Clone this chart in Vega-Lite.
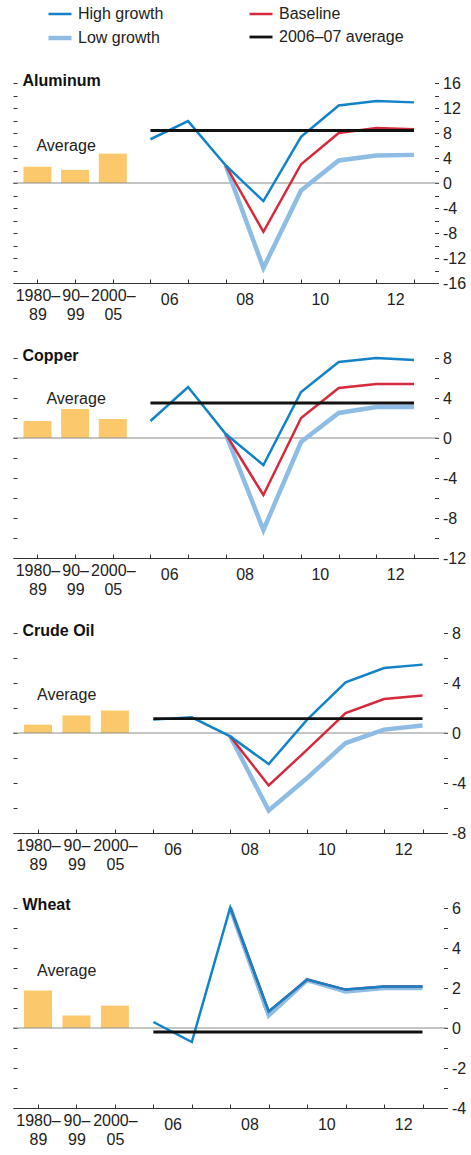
{
  "$schema": "https://vega.github.io/schema/vega-lite/v6.json",
  "padding": {"left": 12, "top": 1, "right": 0, "bottom": 0},
  "bounds": "flush",
  "spacing": 75,
  "datasets": {
    "bars": [
      {"c": "Aluminum", "t": "1980–89", "v": 2.6},
      {"c": "Aluminum", "t": "1990–99", "v": 2.1},
      {"c": "Aluminum", "t": "2000–05", "v": 4.7},
      {"c": "Copper", "t": "1980–89", "v": 1.7},
      {"c": "Copper", "t": "1990–99", "v": 2.9},
      {"c": "Copper", "t": "2000–05", "v": 1.9},
      {"c": "Crude Oil", "t": "1980–89", "v": 0.67},
      {"c": "Crude Oil", "t": "1990–99", "v": 1.4},
      {"c": "Crude Oil", "t": "2000–05", "v": 1.8},
      {"c": "Wheat", "t": "1980–89", "v": 1.88},
      {"c": "Wheat", "t": "1990–99", "v": 0.62},
      {"c": "Wheat", "t": "2000–05", "v": 1.12}
    ],
    "lines": [
      {"c": "Aluminum", "s": "Low growth", "t": "2008", "v": 2.8},
      {"c": "Aluminum", "s": "Low growth", "t": "2009", "v": -13.6},
      {"c": "Aluminum", "s": "Low growth", "t": "2010", "v": -1.2},
      {"c": "Aluminum", "s": "Low growth", "t": "2011", "v": 3.6},
      {"c": "Aluminum", "s": "Low growth", "t": "2012", "v": 4.4},
      {"c": "Aluminum", "s": "Low growth", "t": "2013", "v": 4.5},
      {"c": "Copper", "s": "Low growth", "t": "2008", "v": 0.4},
      {"c": "Copper", "s": "Low growth", "t": "2009", "v": -9.2},
      {"c": "Copper", "s": "Low growth", "t": "2010", "v": -0.4},
      {"c": "Copper", "s": "Low growth", "t": "2011", "v": 2.5},
      {"c": "Copper", "s": "Low growth", "t": "2012", "v": 3.1},
      {"c": "Copper", "s": "Low growth", "t": "2013", "v": 3.1},
      {"c": "Crude Oil", "s": "Low growth", "t": "2008", "v": -0.27},
      {"c": "Crude Oil", "s": "Low growth", "t": "2009", "v": -6.2},
      {"c": "Crude Oil", "s": "Low growth", "t": "2010", "v": -3.6},
      {"c": "Crude Oil", "s": "Low growth", "t": "2011", "v": -0.8},
      {"c": "Crude Oil", "s": "Low growth", "t": "2012", "v": 0.27},
      {"c": "Crude Oil", "s": "Low growth", "t": "2013", "v": 0.6},
      {"c": "Wheat", "s": "Low growth", "t": "2008", "v": 6.0},
      {"c": "Wheat", "s": "Low growth", "t": "2009", "v": 0.63},
      {"c": "Wheat", "s": "Low growth", "t": "2010", "v": 2.4},
      {"c": "Wheat", "s": "Low growth", "t": "2011", "v": 1.83},
      {"c": "Wheat", "s": "Low growth", "t": "2012", "v": 2.0},
      {"c": "Wheat", "s": "Low growth", "t": "2013", "v": 2.0},
      {"c": "Aluminum", "s": "Baseline", "t": "2008", "v": 2.8},
      {"c": "Aluminum", "s": "Baseline", "t": "2009", "v": -7.8},
      {"c": "Aluminum", "s": "Baseline", "t": "2010", "v": 3.0},
      {"c": "Aluminum", "s": "Baseline", "t": "2011", "v": 8.0},
      {"c": "Aluminum", "s": "Baseline", "t": "2012", "v": 8.8},
      {"c": "Aluminum", "s": "Baseline", "t": "2013", "v": 8.6},
      {"c": "Copper", "s": "Baseline", "t": "2008", "v": 0.4},
      {"c": "Copper", "s": "Baseline", "t": "2009", "v": -5.7},
      {"c": "Copper", "s": "Baseline", "t": "2010", "v": 2.0},
      {"c": "Copper", "s": "Baseline", "t": "2011", "v": 5.0},
      {"c": "Copper", "s": "Baseline", "t": "2012", "v": 5.4},
      {"c": "Copper", "s": "Baseline", "t": "2013", "v": 5.4},
      {"c": "Crude Oil", "s": "Baseline", "t": "2008", "v": -0.27},
      {"c": "Crude Oil", "s": "Baseline", "t": "2009", "v": -4.2},
      {"c": "Crude Oil", "s": "Baseline", "t": "2010", "v": -1.33},
      {"c": "Crude Oil", "s": "Baseline", "t": "2011", "v": 1.6},
      {"c": "Crude Oil", "s": "Baseline", "t": "2012", "v": 2.72},
      {"c": "Crude Oil", "s": "Baseline", "t": "2013", "v": 3.0},
      {"c": "Wheat", "s": "Baseline", "t": "2008", "v": 6.03},
      {"c": "Wheat", "s": "Baseline", "t": "2009", "v": 0.83},
      {"c": "Wheat", "s": "Baseline", "t": "2010", "v": 2.42},
      {"c": "Wheat", "s": "Baseline", "t": "2011", "v": 1.92},
      {"c": "Wheat", "s": "Baseline", "t": "2012", "v": 2.08},
      {"c": "Wheat", "s": "Baseline", "t": "2013", "v": 2.08},
      {"c": "Aluminum", "s": "High growth", "t": "2006", "v": 7.0},
      {"c": "Aluminum", "s": "High growth", "t": "2007", "v": 9.9},
      {"c": "Aluminum", "s": "High growth", "t": "2008", "v": 2.8},
      {"c": "Aluminum", "s": "High growth", "t": "2009", "v": -2.9},
      {"c": "Aluminum", "s": "High growth", "t": "2010", "v": 7.4},
      {"c": "Aluminum", "s": "High growth", "t": "2011", "v": 12.4},
      {"c": "Aluminum", "s": "High growth", "t": "2012", "v": 13.1},
      {"c": "Aluminum", "s": "High growth", "t": "2013", "v": 12.9},
      {"c": "Copper", "s": "High growth", "t": "2006", "v": 1.7},
      {"c": "Copper", "s": "High growth", "t": "2007", "v": 5.1},
      {"c": "Copper", "s": "High growth", "t": "2008", "v": 0.4},
      {"c": "Copper", "s": "High growth", "t": "2009", "v": -2.7},
      {"c": "Copper", "s": "High growth", "t": "2010", "v": 4.6},
      {"c": "Copper", "s": "High growth", "t": "2011", "v": 7.6},
      {"c": "Copper", "s": "High growth", "t": "2012", "v": 8.0},
      {"c": "Copper", "s": "High growth", "t": "2013", "v": 7.8},
      {"c": "Crude Oil", "s": "High growth", "t": "2006", "v": 1.07},
      {"c": "Crude Oil", "s": "High growth", "t": "2007", "v": 1.25},
      {"c": "Crude Oil", "s": "High growth", "t": "2008", "v": -0.27},
      {"c": "Crude Oil", "s": "High growth", "t": "2009", "v": -2.48},
      {"c": "Crude Oil", "s": "High growth", "t": "2010", "v": 1.07},
      {"c": "Crude Oil", "s": "High growth", "t": "2011", "v": 4.05},
      {"c": "Crude Oil", "s": "High growth", "t": "2012", "v": 5.2},
      {"c": "Crude Oil", "s": "High growth", "t": "2013", "v": 5.47},
      {"c": "Wheat", "s": "High growth", "t": "2006", "v": 0.3},
      {"c": "Wheat", "s": "High growth", "t": "2007", "v": -0.7},
      {"c": "Wheat", "s": "High growth", "t": "2008", "v": 6.03},
      {"c": "Wheat", "s": "High growth", "t": "2009", "v": 0.83},
      {"c": "Wheat", "s": "High growth", "t": "2010", "v": 2.42},
      {"c": "Wheat", "s": "High growth", "t": "2011", "v": 1.92},
      {"c": "Wheat", "s": "High growth", "t": "2012", "v": 2.08},
      {"c": "Wheat", "s": "High growth", "t": "2013", "v": 2.08},
      {"c": "Aluminum", "s": "2006–07 average", "t": "2006", "v": 8.4},
      {"c": "Aluminum", "s": "2006–07 average", "t": "2013", "v": 8.4},
      {"c": "Copper", "s": "2006–07 average", "t": "2006", "v": 3.5},
      {"c": "Copper", "s": "2006–07 average", "t": "2013", "v": 3.5},
      {"c": "Crude Oil", "s": "2006–07 average", "t": "2006", "v": 1.15},
      {"c": "Crude Oil", "s": "2006–07 average", "t": "2013", "v": 1.15},
      {"c": "Wheat", "s": "2006–07 average", "t": "2006", "v": -0.2},
      {"c": "Wheat", "s": "2006–07 average", "t": "2013", "v": -0.2}
    ]
  },
  "vconcat": [
    {
      "width": 425.5, "height": 200,
      "title": {"text": "Aluminum"},
      "layer": [
        {"data": {"name": "bars"}, "transform": [{"filter": "datum.c == 'Aluminum'"}],
         "mark": {"type": "bar", "width": 28, "color": "#fbc96b"},
         "encoding": {
           "x": {"field": "t", "type": "ordinal", "scale": {"type": "point", "domain": ["1980–89","1990–99","2000–05","2006","2007","2008","2009","2010","2011","2012","2013"], "padding": 0.65},
                 "axis": {"orient": "bottom", "title": null, "tickSize": -4, "labelExpr": "datum.value == '1980–89' ? ['1980–','89'] : datum.value == '1990–99' ? ['90–','99'] : datum.value == '2000–05' ? ['2000–','05'] : ''"}},
           "y": {"field": "v", "type": "quantitative", "scale": {"domain": [-16, 16], "nice": false, "zero": false},
                 "axis": {"orient": "left", "title": null, "labels": false, "domain": false, "tickSize": -4, "values": [-16,-14,-12,-10,-8,-6,-4,-2,0,2,4,6,8,10,12,14,16]}}
         }},
        {"data": {"values": [{}]}, "mark": {"type": "rule", "color": "#8a8a8a", "strokeWidth": 1}, "encoding": {"y": {"datum": 0, "type": "quantitative", "axis": null}}},
        {"data": {"name": "lines"}, "transform": [{"filter": "datum.c == 'Aluminum'"}],
         "mark": {"type": "line", "strokeJoin": "miter"},
         "encoding": {
           "x": {"field": "t", "type": "ordinal", "scale": {"type": "point", "domain": ["1980–89","1990–99","2000–05","2006","2007","2008","2009","2010","2011","2012","2013"], "padding": 0.65},
                 "axis": {"orient": "bottom", "title": null, "domain": false, "ticks": false, "labelOffset": 18.8, "labelExpr": "indexof(['2006','2008','2010','2012'], datum.value) >= 0 ? substring(datum.value, 2) : ''"}},
           "y": {"field": "v", "type": "quantitative", "scale": {"domain": [-16, 16], "nice": false, "zero": false},
                 "axis": {"orient": "right", "title": null, "domain": false, "tickSize": -4, "values": [-16,-14,-12,-10,-8,-6,-4,-2,0,2,4,6,8,10,12,14,16], "labelExpr": "datum.value % 4 == 0 ? '' + datum.value : ''"}},
           "color": {"field": "s", "type": "nominal", "scale": {"domain": ["High growth","Low growth","Baseline","2006–07 average"], "range": ["#1283c9","#8dbde5","#d62a3c","#111111"]}, "legend": {"title": null}},
           "strokeWidth": {"field": "s", "type": "nominal", "scale": {"type": "ordinal", "domain": ["High growth","Low growth","Baseline","2006–07 average"], "range": [2.5, 4.5, 2.5, 2.8]}, "legend": {"title": null}}
         }},
        {"data": {"values": [{}]}, "mark": {"type": "text", "text": "Average", "align": "left", "baseline": "middle", "fontSize": 16, "color": "#222", "dx": -1},
         "encoding": {"x": {"datum": "1980–89", "type": "ordinal", "axis": null}, "y": {"datum": 6.0, "type": "quantitative", "axis": null}}}
      ],
      "resolve": {"axis": {"x": "independent", "y": "independent"}}
    },
    {
      "width": 425.5, "height": 200,
      "title": {"text": "Copper"},
      "layer": [
        {"data": {"name": "bars"}, "transform": [{"filter": "datum.c == 'Copper'"}],
         "mark": {"type": "bar", "width": 28, "color": "#fbc96b"},
         "encoding": {
           "x": {"field": "t", "type": "ordinal", "scale": {"type": "point", "domain": ["1980–89","1990–99","2000–05","2006","2007","2008","2009","2010","2011","2012","2013"], "padding": 0.65},
                 "axis": {"orient": "bottom", "title": null, "tickSize": -4, "labelExpr": "datum.value == '1980–89' ? ['1980–','89'] : datum.value == '1990–99' ? ['90–','99'] : datum.value == '2000–05' ? ['2000–','05'] : ''"}},
           "y": {"field": "v", "type": "quantitative", "scale": {"domain": [-12, 8], "nice": false, "zero": false},
                 "axis": {"orient": "left", "title": null, "labels": false, "domain": false, "tickSize": -4, "values": [-12,-10,-8,-6,-4,-2,0,2,4,6,8]}}
         }},
        {"data": {"values": [{}]}, "mark": {"type": "rule", "color": "#8a8a8a", "strokeWidth": 1}, "encoding": {"y": {"datum": 0, "type": "quantitative", "axis": null}}},
        {"data": {"name": "lines"}, "transform": [{"filter": "datum.c == 'Copper'"}],
         "mark": {"type": "line", "strokeJoin": "miter"},
         "encoding": {
           "x": {"field": "t", "type": "ordinal", "scale": {"type": "point", "domain": ["1980–89","1990–99","2000–05","2006","2007","2008","2009","2010","2011","2012","2013"], "padding": 0.65},
                 "axis": {"orient": "bottom", "title": null, "domain": false, "ticks": false, "labelOffset": 18.8, "labelExpr": "indexof(['2006','2008','2010','2012'], datum.value) >= 0 ? substring(datum.value, 2) : ''"}},
           "y": {"field": "v", "type": "quantitative", "scale": {"domain": [-12, 8], "nice": false, "zero": false},
                 "axis": {"orient": "right", "title": null, "domain": false, "tickSize": -4, "values": [-12,-10,-8,-6,-4,-2,0,2,4,6,8], "labelExpr": "datum.value % 4 == 0 ? '' + datum.value : ''"}},
           "color": {"field": "s", "type": "nominal", "scale": {"domain": ["High growth","Low growth","Baseline","2006–07 average"], "range": ["#1283c9","#8dbde5","#d62a3c","#111111"]}, "legend": {"title": null}},
           "strokeWidth": {"field": "s", "type": "nominal", "scale": {"type": "ordinal", "domain": ["High growth","Low growth","Baseline","2006–07 average"], "range": [2.5, 4.5, 2.5, 2.8]}, "legend": {"title": null}}
         }},
        {"data": {"values": [{}]}, "mark": {"type": "text", "text": "Average", "align": "left", "baseline": "middle", "fontSize": 16, "color": "#222", "dx": 9},
         "encoding": {"x": {"datum": "1980–89", "type": "ordinal", "axis": null}, "y": {"datum": 3.9, "type": "quantitative", "axis": null}}}
      ],
      "resolve": {"axis": {"x": "independent", "y": "independent"}}
    },
    {
      "width": 434.5, "height": 200,
      "title": {"text": "Crude Oil"},
      "layer": [
        {"data": {"name": "bars"}, "transform": [{"filter": "datum.c == 'Crude Oil'"}],
         "mark": {"type": "bar", "width": 28, "color": "#fbc96b"},
         "encoding": {
           "x": {"field": "t", "type": "ordinal", "scale": {"type": "point", "domain": ["1980–89","1990–99","2000–05","2006","2007","2008","2009","2010","2011","2012","2013"], "padding": 0.65},
                 "axis": {"orient": "bottom", "title": null, "tickSize": -4, "labelExpr": "datum.value == '1980–89' ? ['1980–','89'] : datum.value == '1990–99' ? ['90–','99'] : datum.value == '2000–05' ? ['2000–','05'] : ''"}},
           "y": {"field": "v", "type": "quantitative", "scale": {"domain": [-8, 8], "nice": false, "zero": false},
                 "axis": {"orient": "left", "title": null, "labels": false, "domain": false, "tickSize": -4, "values": [-8,-6,-4,-2,0,2,4,6,8]}}
         }},
        {"data": {"values": [{}]}, "mark": {"type": "rule", "color": "#8a8a8a", "strokeWidth": 1}, "encoding": {"y": {"datum": 0, "type": "quantitative", "axis": null}}},
        {"data": {"name": "lines"}, "transform": [{"filter": "datum.c == 'Crude Oil'"}],
         "mark": {"type": "line", "strokeJoin": "miter"},
         "encoding": {
           "x": {"field": "t", "type": "ordinal", "scale": {"type": "point", "domain": ["1980–89","1990–99","2000–05","2006","2007","2008","2009","2010","2011","2012","2013"], "padding": 0.65},
                 "axis": {"orient": "bottom", "title": null, "domain": false, "ticks": false, "labelOffset": 19.2, "labelExpr": "indexof(['2006','2008','2010','2012'], datum.value) >= 0 ? substring(datum.value, 2) : ''"}},
           "y": {"field": "v", "type": "quantitative", "scale": {"domain": [-8, 8], "nice": false, "zero": false},
                 "axis": {"orient": "right", "title": null, "domain": false, "tickSize": -4, "values": [-8,-6,-4,-2,0,2,4,6,8], "labelExpr": "datum.value % 4 == 0 ? '' + datum.value : ''"}},
           "color": {"field": "s", "type": "nominal", "scale": {"domain": ["High growth","Low growth","Baseline","2006–07 average"], "range": ["#1283c9","#8dbde5","#d62a3c","#111111"]}, "legend": {"title": null}},
           "strokeWidth": {"field": "s", "type": "nominal", "scale": {"type": "ordinal", "domain": ["High growth","Low growth","Baseline","2006–07 average"], "range": [2.5, 4.5, 2.5, 2.8]}, "legend": {"title": null}}
         }},
        {"data": {"values": [{}]}, "mark": {"type": "text", "text": "Average", "align": "left", "baseline": "middle", "fontSize": 16, "color": "#222", "dx": -1},
         "encoding": {"x": {"datum": "1980–89", "type": "ordinal", "axis": null}, "y": {"datum": 3.06, "type": "quantitative", "axis": null}}}
      ],
      "resolve": {"axis": {"x": "independent", "y": "independent"}}
    },
    {
      "width": 434.5, "height": 200,
      "title": {"text": "Wheat"},
      "layer": [
        {"data": {"name": "bars"}, "transform": [{"filter": "datum.c == 'Wheat'"}],
         "mark": {"type": "bar", "width": 28, "color": "#fbc96b"},
         "encoding": {
           "x": {"field": "t", "type": "ordinal", "scale": {"type": "point", "domain": ["1980–89","1990–99","2000–05","2006","2007","2008","2009","2010","2011","2012","2013"], "padding": 0.65},
                 "axis": {"orient": "bottom", "title": null, "tickSize": -4, "labelExpr": "datum.value == '1980–89' ? ['1980–','89'] : datum.value == '1990–99' ? ['90–','99'] : datum.value == '2000–05' ? ['2000–','05'] : ''"}},
           "y": {"field": "v", "type": "quantitative", "scale": {"domain": [-4, 6], "nice": false, "zero": false},
                 "axis": {"orient": "left", "title": null, "labels": false, "domain": false, "tickSize": -4, "values": [-4,-3,-2,-1,0,1,2,3,4,5,6]}}
         }},
        {"data": {"values": [{}]}, "mark": {"type": "rule", "color": "#8a8a8a", "strokeWidth": 1}, "encoding": {"y": {"datum": 0, "type": "quantitative", "axis": null}}},
        {"data": {"name": "lines"}, "transform": [{"filter": "datum.c == 'Wheat'"}],
         "mark": {"type": "line", "strokeJoin": "miter"},
         "encoding": {
           "x": {"field": "t", "type": "ordinal", "scale": {"type": "point", "domain": ["1980–89","1990–99","2000–05","2006","2007","2008","2009","2010","2011","2012","2013"], "padding": 0.65},
                 "axis": {"orient": "bottom", "title": null, "domain": false, "ticks": false, "labelOffset": 19.2, "labelExpr": "indexof(['2006','2008','2010','2012'], datum.value) >= 0 ? substring(datum.value, 2) : ''"}},
           "y": {"field": "v", "type": "quantitative", "scale": {"domain": [-4, 6], "nice": false, "zero": false},
                 "axis": {"orient": "right", "title": null, "domain": false, "tickSize": -4, "values": [-4,-3,-2,-1,0,1,2,3,4,5,6], "labelExpr": "datum.value % 2 == 0 ? '' + datum.value : ''"}},
           "color": {"field": "s", "type": "nominal", "scale": {"domain": ["High growth","Low growth","Baseline","2006–07 average"], "range": ["#1283c9","#8dbde5","#d62a3c","#111111"]}, "legend": {"title": null}},
           "strokeWidth": {"field": "s", "type": "nominal", "scale": {"type": "ordinal", "domain": ["High growth","Low growth","Baseline","2006–07 average"], "range": [2.5, 4.5, 2.5, 2.8]}, "legend": {"title": null}}
         }},
        {"data": {"values": [{}]}, "mark": {"type": "text", "text": "Average", "align": "left", "baseline": "middle", "fontSize": 16, "color": "#222", "dx": -1},
         "encoding": {"x": {"datum": "1980–89", "type": "ordinal", "axis": null}, "y": {"datum": 2.87, "type": "quantitative", "axis": null}}}
      ],
      "resolve": {"axis": {"x": "independent", "y": "independent"}}
    }
  ],
  "config": {
    "font": "Liberation Sans",
    "view": {"stroke": null},
    "title": {"anchor": "start", "frame": "group", "fontSize": 16, "fontWeight": "bold", "color": "#111", "dx": 9.5, "offset": -14, "baseline": "alphabetic"},
    "axis": {"grid": false, "labelFontSize": 16, "labelColor": "#222", "tickColor": "#333", "tickWidth": 1, "domainColor": "#333", "domainWidth": 1.2, "labelOverlap": false, "labelBound": false, "labelFlush": false, "labelAngle": 0, "labelPadding": 8, "labelLineHeight": 19},
    "legend": {"orient": "none", "legendX": 33, "legendY": -82, "columns": 2, "symbolType": "stroke", "symbolSize": 529, "labelFontSize": 16, "labelColor": "#222", "columnPadding": 79, "rowPadding": 2, "labelOffset": 4, "padding": 0}
  }
}
